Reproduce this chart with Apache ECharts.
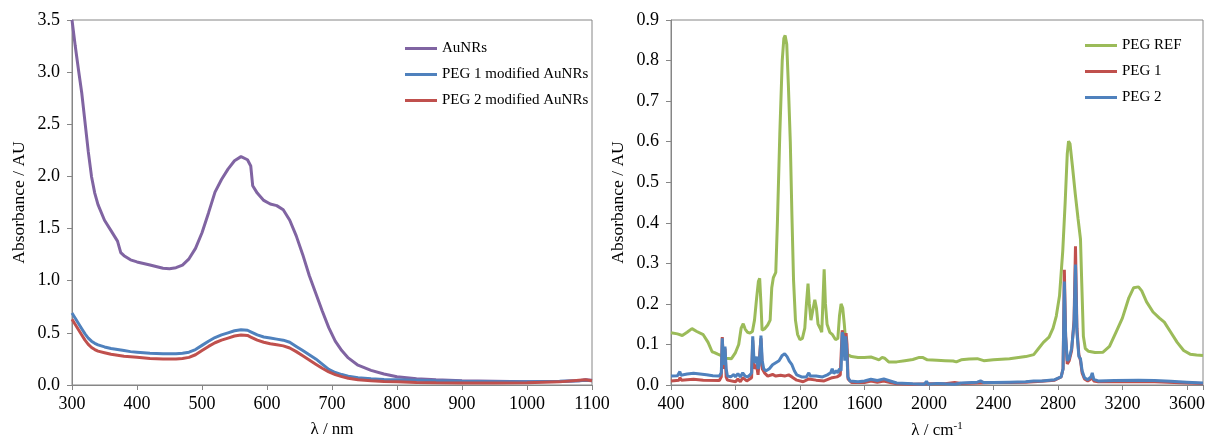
<!DOCTYPE html>
<html><head><meta charset="utf-8">
<script src="https://cdn.jsdelivr.net/npm/echarts@6/dist/echarts.min.js"></script>
<style>html,body{margin:0;padding:0;background:#fff}#c{width:1205px;height:437px}</style>
</head><body><div id="c"></div>
<script>
// ---------- Left chart: UV-vis ----------
const uvWavelength = [300,305,310,315,320,325,330,335,340,350,360,370,375,380,390,400,420,440,450,460,470,480,490,500,510,520,530,540,550,560,570,575,578,585,595,605,615,625,635,645,655,665,675,685,695,705,715,725,740,760,780,800,830,860,900,950,1000,1050,1080,1090,1100];
const auNRs = [3.50,3.25,3.02,2.80,2.52,2.24,2.00,1.84,1.73,1.58,1.48,1.38,1.27,1.24,1.20,1.18,1.15,1.12,1.115,1.125,1.15,1.21,1.31,1.46,1.65,1.85,1.97,2.07,2.15,2.19,2.16,2.10,1.91,1.84,1.77,1.735,1.72,1.68,1.58,1.43,1.25,1.05,0.88,0.71,0.55,0.42,0.33,0.26,0.19,0.14,0.105,0.08,0.06,0.05,0.04,0.035,0.03,0.033,0.04,0.05,0.045];
const peg1AuNRs = [0.69,0.64,0.59,0.54,0.49,0.45,0.42,0.40,0.385,0.365,0.35,0.34,0.335,0.33,0.32,0.315,0.305,0.30,0.30,0.30,0.305,0.315,0.34,0.38,0.42,0.455,0.48,0.50,0.52,0.53,0.525,0.51,0.505,0.48,0.46,0.45,0.44,0.43,0.41,0.37,0.33,0.29,0.25,0.20,0.15,0.12,0.10,0.085,0.07,0.06,0.053,0.05,0.045,0.04,0.035,0.03,0.03,0.035,0.04,0.045,0.04];
const peg2AuNRs = [0.63,0.58,0.53,0.48,0.43,0.39,0.36,0.34,0.325,0.31,0.295,0.285,0.28,0.275,0.27,0.265,0.255,0.25,0.25,0.25,0.255,0.265,0.29,0.33,0.37,0.405,0.43,0.45,0.47,0.48,0.475,0.46,0.455,0.43,0.41,0.395,0.385,0.375,0.355,0.32,0.28,0.24,0.20,0.16,0.125,0.10,0.08,0.065,0.05,0.04,0.033,0.03,0.025,0.022,0.02,0.02,0.022,0.03,0.045,0.05,0.04];

// ---------- Right chart: FTIR ----------
const refWavenumber = [400,440,470,500,530,560,600,630,655,670,690,715,740,775,800,820,835,848,860,875,890,905,918,930,942,950,958,965,980,1000,1015,1025,1035,1050,1060,1075,1090,1100,1108,1118,1128,1140,1150,1160,1172,1185,1200,1215,1230,1240,1250,1258,1268,1280,1292,1302,1312,1325,1335,1342,1350,1358,1368,1385,1400,1420,1435,1445,1455,1465,1475,1485,1495,1520,1560,1600,1640,1670,1690,1710,1725,1750,1800,1850,1900,1940,1960,1990,2050,2100,2150,2170,2200,2250,2300,2340,2400,2500,2600,2650,2680,2710,2745,2770,2790,2810,2830,2845,2858,2866,2875,2890,2908,2925,2940,2948,2958,2970,2990,3030,3080,3120,3160,3200,3240,3270,3300,3320,3350,3390,3430,3460,3500,3540,3580,3620,3660,3700];
const refAbs = [0.129,0.126,0.122,0.130,0.139,0.132,0.124,0.105,0.082,0.080,0.076,0.072,0.066,0.065,0.080,0.100,0.140,0.151,0.138,0.130,0.128,0.132,0.16,0.21,0.255,0.263,0.20,0.135,0.138,0.148,0.16,0.24,0.265,0.278,0.40,0.62,0.80,0.855,0.862,0.84,0.74,0.60,0.42,0.26,0.16,0.125,0.112,0.115,0.14,0.20,0.25,0.20,0.16,0.185,0.21,0.19,0.15,0.14,0.13,0.20,0.285,0.20,0.15,0.13,0.125,0.112,0.115,0.17,0.20,0.19,0.15,0.10,0.075,0.07,0.068,0.068,0.069,0.065,0.062,0.068,0.066,0.057,0.057,0.060,0.063,0.068,0.068,0.062,0.061,0.060,0.059,0.057,0.062,0.064,0.065,0.060,0.062,0.065,0.070,0.075,0.090,0.105,0.118,0.140,0.170,0.220,0.33,0.45,0.57,0.601,0.595,0.54,0.47,0.41,0.36,0.25,0.12,0.09,0.083,0.080,0.081,0.095,0.13,0.165,0.215,0.24,0.242,0.232,0.205,0.18,0.165,0.155,0.13,0.105,0.085,0.076,0.074,0.073];

const peg1Wavenumber = [400,450,455,465,500,540,600,700,712,718,724,730,735,742,750,800,815,830,845,870,900,907,915,930,940,958,966,980,1000,1030,1050,1080,1105,1130,1150,1180,1220,1255,1300,1350,1400,1430,1450,1462,1470,1478,1486,1492,1498,1520,1600,1640,1680,1720,1760,1800,1900,2000,2100,2160,2200,2300,2400,2500,2600,2700,2780,2820,2832,2840,2848,2858,2870,2885,2900,2909,2918,2930,2940,2950,2965,2985,3005,3013,3022,3050,3200,3400,3600,3700];
const peg1Abs = [0.010,0.012,0.018,0.012,0.013,0.014,0.012,0.011,0.020,0.118,0.060,0.040,0.090,0.020,0.012,0.008,0.015,0.008,0.018,0.010,0.018,0.110,0.040,0.050,0.025,0.115,0.040,0.030,0.022,0.026,0.022,0.024,0.022,0.025,0.020,0.012,0.008,0.015,0.012,0.010,0.018,0.020,0.025,0.135,0.120,0.070,0.128,0.100,0.015,0.006,0.006,0.010,0.007,0.010,0.006,0.003,0.002,0.003,0.003,0.006,0.004,0.005,0.006,0.006,0.007,0.009,0.012,0.020,0.040,0.284,0.120,0.052,0.060,0.085,0.160,0.342,0.140,0.075,0.060,0.030,0.015,0.010,0.015,0.025,0.010,0.008,0.008,0.008,0.005,0.004];

const peg2Wavenumber = [400,440,450,455,462,500,540,580,620,660,700,712,718,724,730,735,742,750,770,790,800,815,830,845,860,875,890,900,907,915,925,932,940,948,958,966,975,990,1010,1030,1050,1070,1090,1105,1120,1135,1150,1165,1180,1210,1240,1255,1265,1300,1340,1370,1390,1400,1410,1425,1435,1445,1455,1462,1470,1478,1484,1490,1497,1510,1560,1600,1640,1680,1720,1760,1800,1900,1970,1985,1995,2050,2100,2160,2200,2300,2320,2340,2400,2500,2600,2650,2700,2780,2820,2832,2840,2848,2858,2870,2885,2900,2909,2918,2930,2940,2950,2965,2985,3005,3013,3022,3050,3150,3300,3400,3500,3600,3700];
const peg2Abs = [0.022,0.023,0.026,0.033,0.024,0.027,0.029,0.027,0.025,0.023,0.022,0.030,0.115,0.070,0.050,0.095,0.040,0.022,0.020,0.026,0.020,0.028,0.020,0.030,0.022,0.020,0.025,0.030,0.120,0.060,0.055,0.070,0.040,0.050,0.122,0.060,0.040,0.035,0.040,0.050,0.055,0.060,0.073,0.077,0.070,0.058,0.050,0.035,0.025,0.020,0.020,0.030,0.022,0.022,0.020,0.025,0.030,0.040,0.028,0.035,0.030,0.040,0.035,0.130,0.120,0.060,0.120,0.090,0.020,0.010,0.008,0.010,0.014,0.011,0.015,0.010,0.005,0.003,0.002,0.009,0.002,0.004,0.003,0.002,0.005,0.007,0.010,0.006,0.006,0.007,0.008,0.010,0.010,0.013,0.020,0.040,0.255,0.120,0.060,0.065,0.090,0.150,0.297,0.130,0.070,0.065,0.035,0.018,0.013,0.020,0.030,0.014,0.010,0.011,0.012,0.011,0.009,0.007,0.005];

const uvTicks = {min:300, max:1100, interval:100};
const irTicks = {min:400, max:3700, interval:400};

const pair = (xs, ys) => xs.map((x, i) => [x, ys[i]]);

const FONT = '"Liberation Serif", "Times New Roman", serif';
const AX = '#868686';
const PURPLE = '#8064A2', BLUE = '#4F81BD', RED = '#C0504D', GREEN = '#9BBB59';

function xAx(grid, t, name, rich) {
  return {
    type: 'value', gridIndex: grid, min: t.min, max: t.max, interval: t.interval,
    axisLine: {show: true, lineStyle: {color: AX}}, axisTick: {show: true, length: 5, lineStyle: {color: AX}},
    splitLine: {show: false},
    axisLabel: {color: '#000', fontFamily: FONT, fontSize: 18, margin: 10, showMaxLabel: true,
      formatter: v => (v % t.interval === 0 ? String(v) : '')},
    name: name, nameLocation: 'middle', nameGap: 36,
    nameTextStyle: Object.assign({color: '#000', fontFamily: FONT, fontSize: 17}, rich ? {rich: rich} : {})
  };
}
function yAx(grid, max, interval) {
  return {
    type: 'value', gridIndex: grid, min: 0, max: max, interval: interval,
    axisLine: {show: true, lineStyle: {color: AX}}, axisTick: {show: true, length: 5, lineStyle: {color: AX}},
    splitLine: {show: false},
    axisLabel: {color: '#000', fontFamily: FONT, fontSize: 18, margin: 12, formatter: v => v.toFixed(1)},
    name: 'Absorbance / AU', nameLocation: 'middle', nameGap: 44,
    nameTextStyle: {color: '#000', fontFamily: FONT, fontSize: 17.5}
  };
}
function line(name, data, color, xi, yi) {
  return {name, type: 'line', xAxisIndex: xi, yAxisIndex: yi, data, showSymbol: false, symbol: 'none',
    lineStyle: {color, width: 3}, itemStyle: {color}, smooth: false, animation: false};
}

const chart = echarts.init(document.getElementById('c'), null, {renderer: 'canvas'});
chart.setOption({
  animation: false,
  backgroundColor: '#fff',
  grid: [
    {left: 72, right: 613, top: 20, bottom: 52, show: true, borderColor: AX, borderWidth: 1, containLabel: false, outerBoundsMode: 'none'},
    {left: 671, right: 2, top: 20, bottom: 52, show: true, borderColor: AX, borderWidth: 1, containLabel: false, outerBoundsMode: 'none'}
  ],
  xAxis: [
    xAx(0, uvTicks, 'λ / nm'),
    xAx(1, irTicks, '{a|λ / cm}{s|-1}', {a: {fontFamily: FONT, fontSize: 17, color: '#000'}, s: {fontFamily: FONT, fontSize: 11, color: '#000', padding: [0, 0, 8, 0]}})
  ],
  yAxis: [yAx(0, 3.5, 0.5), yAx(1, 0.9, 0.1)],
  legend: [
    {data: ['AuNRs', 'PEG 1 modified AuNRs', 'PEG 2 modified AuNRs'], orient: 'vertical', left: 400, top: 36,
     icon: 'rect', itemWidth: 32, itemHeight: 3, itemGap: 11,
     textStyle: {fontFamily: FONT, fontSize: 15, color: '#000'}},
    {data: ['PEG REF', 'PEG 1', 'PEG 2'], orient: 'vertical', left: 1080, top: 33,
     icon: 'rect', itemWidth: 32, itemHeight: 3, itemGap: 11,
     textStyle: {fontFamily: FONT, fontSize: 15, color: '#000'}}
  ],
  series: [
    line('AuNRs', pair(uvWavelength, auNRs), PURPLE, 0, 0),
    line('PEG 1 modified AuNRs', pair(uvWavelength, peg1AuNRs), BLUE, 0, 0),
    line('PEG 2 modified AuNRs', pair(uvWavelength, peg2AuNRs), RED, 0, 0),
    line('PEG REF', pair(refWavenumber, refAbs), GREEN, 1, 1),
    line('PEG 1', pair(peg1Wavenumber, peg1Abs), RED, 1, 1),
    line('PEG 2', pair(peg2Wavenumber, peg2Abs), BLUE, 1, 1)
  ]
});
</script></body></html>
